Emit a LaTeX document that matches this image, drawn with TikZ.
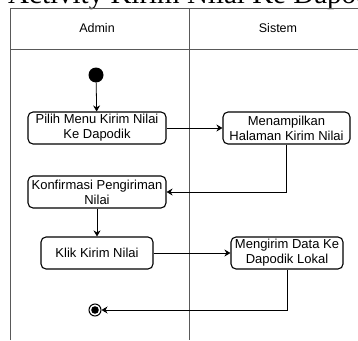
\documentclass[tikz,border=0pt]{standalone}
\usepackage{fontspec}
\setmainfont{Liberation Sans}
\newfontfamily\judulfont{Liberation Serif}
\usetikzlibrary{arrows.meta}
\tikzstyle{aksi}=[draw,rounded corners=5pt,line width=1.1pt,align=center,inner sep=1pt,minimum height=32pt,font=\fontsize{13}{15}\selectfont]
\tikzstyle{mulai}=[fill,circle,inner sep=0,minimum size=15pt]
\tikzstyle{akhir}=[draw,circle,line width=1pt,inner sep=0,minimum size=12pt,path picture={\fill (path picture bounding box.center) circle (3.8pt);}]
\tikzstyle{panah}=[-{Stealth[length=6pt,width=7pt]},line width=0.8pt]
\tikzstyle{garis}=[draw=black!65,line width=0.9pt]

\begin{document}
\begin{tikzpicture}[x=1pt,y=-1pt]
    \useasboundingbox (0,0) rectangle (358,340);
    \begin{scope}
    \clip (0,0) rectangle (358,340);
    \node[anchor=base west,inner sep=0,font=\judulfont\fontsize{29}{30}\selectfont] (judul) at (8,4) {Activity Kirim Nilai Ke Dapodik};
    \end{scope}

                        % swimlane
                        \draw[garis]
                        (10,340) -- (10,8) -- (358,8)
                        (10,49) -- (358,49)
                        (189,8) -- (189,340)
                        ;
                        \node[font=\fontsize{12.5}{14}\selectfont] (admin) at (97,28) {Admin};
                        \node[font=\fontsize{12.5}{14}\selectfont] (sistem) at (278,28) {Sistem};

                        \node[mulai] (awal) at (96,75) {};
                        \node[aksi,minimum width=138pt] (pilih) at (97,128) {Pilih Menu Kirim Nilai\\Ke Dapodik};
                        \node[aksi,minimum width=127pt] (tampil) at (286.5,128) {Menampilkan\\Halaman Kirim Nilai};
                        \node[aksi,minimum width=138pt] (konfirmasi) at (97,192) {Konfirmasi Pengiriman\\Nilai};
                        \node[aksi,minimum width=112pt] (klik) at (97,253) {Klik Kirim Nilai};
                        \node[aksi,minimum width=112pt] (kirim) at (287,253) {Mengirim Data Ke\\Dapodik Lokal};
                        \node[akhir] (selesai) at (95,310) {};

                        \draw[panah] (awal) -- (pilih);
                        \draw[panah] (pilih) -- (tampil);
                        \draw[panah] (tampil.south) |- (konfirmasi.east);
                        \draw[panah] (konfirmasi) -- (konfirmasi |- klik.north);
                        \draw[panah] (klik) -- (kirim);
                        \draw[panah] (kirim.south) |- (selesai.east);

    \end{tikzpicture}
\end{document}
